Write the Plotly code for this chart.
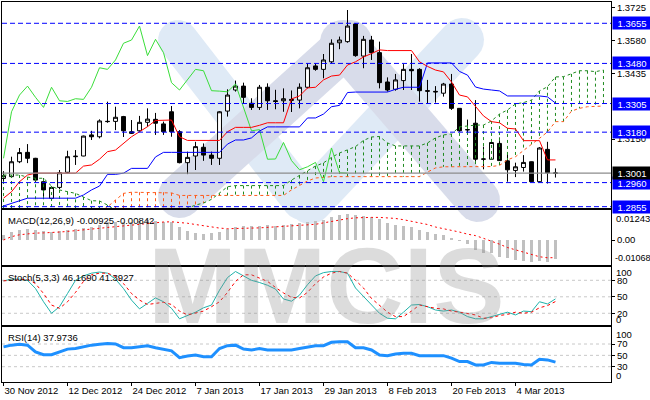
import math
import plotly.graph_objects as go

# ---------------- data ----------------
bar_index = list(range(70))

open_ = [1.2978, 1.2986, 1.3051, 1.3092, 1.3066, 1.2964, 1.2891, 1.2939, 1.3005, 1.3073,
         1.3076, 1.3168, 1.3160, 1.3226, 1.3227, 1.3248, 1.3182, 1.3186, 1.3223, 1.3236,
         1.3216, 1.3269, 1.3182, 1.3047, 1.3076, 1.3114, 1.3080, 1.3066, 1.3272, 1.3364,
         1.3381, 1.3306, 1.3288, 1.3376, 1.3317, 1.3317, 1.3318, 1.3320, 1.3376, 1.3469,
         1.3454, 1.3487, 1.3570, 1.3575, 1.3652, 1.3512, 1.3582, 1.3527, 1.3399, 1.3367,
         1.3405, 1.3454, 1.3454, 1.3361, 1.3358, 1.3350, 1.3390, 1.3284, 1.3190, 1.3219,
         1.3062, 1.3062, 1.3131, 1.3055, 1.3013, 1.3026, 1.3051, 1.2964, 1.3105, 1.3002]
high = [1.3010, 1.3073, 1.3111, 1.3128, 1.3068, 1.2980, 1.2945, 1.3015, 1.3099, 1.3102,
        1.3165, 1.3186, 1.3236, 1.3313, 1.3291, 1.3251, 1.3233, 1.3251, 1.3284, 1.3264,
        1.3226, 1.3294, 1.3189, 1.3095, 1.3138, 1.3131, 1.3095, 1.3272, 1.3367, 1.3405,
        1.3396, 1.3328, 1.3386, 1.3393, 1.3365, 1.3371, 1.3362, 1.3393, 1.3480, 1.3480,
        1.3521, 1.3585, 1.3597, 1.3713, 1.3655, 1.3600, 1.3600, 1.3575, 1.3419, 1.3434,
        1.3477, 1.3521, 1.3459, 1.3408, 1.3381, 1.3395, 1.3434, 1.3285, 1.3235, 1.3320,
        1.3117, 1.3137, 1.3157, 1.3093, 1.3047, 1.3080, 1.3052, 1.3115, 1.3138, 1.3022]
low = [1.2965, 1.2984, 1.3045, 1.3045, 1.2963, 1.2893, 1.2884, 1.2932, 1.3001, 1.3037,
       1.3075, 1.3146, 1.3153, 1.3221, 1.3189, 1.3159, 1.3172, 1.3182, 1.3204, 1.3168,
       1.3168, 1.3160, 1.3044, 1.2997, 1.3015, 1.3055, 1.3037, 1.3037, 1.3248, 1.3357,
       1.3306, 1.3277, 1.3277, 1.3277, 1.3280, 1.3269, 1.3268, 1.3284, 1.3371, 1.3448,
       1.3415, 1.3480, 1.3542, 1.3570, 1.3509, 1.3459, 1.3495, 1.3371, 1.3357, 1.3361,
       1.3364, 1.3364, 1.3313, 1.3306, 1.3309, 1.3335, 1.3277, 1.3182, 1.3168, 1.3041,
       1.3018, 1.3061, 1.3055, 1.2964, 1.2984, 1.3008, 1.2962, 1.2960, 1.2956, 1.2982]
close = [1.2990, 1.3051, 1.3091, 1.3066, 1.2971, 1.2928, 1.2939, 1.3003, 1.3073, 1.3075,
         1.3163, 1.3160, 1.3229, 1.3227, 1.3245, 1.3186, 1.3175, 1.3223, 1.3237, 1.3219,
         1.3182, 1.3182, 1.3047, 1.3070, 1.3117, 1.3080, 1.3066, 1.3269, 1.3342, 1.3381,
         1.3332, 1.3288, 1.3376, 1.3317, 1.3314, 1.3326, 1.3323, 1.3376, 1.3461, 1.3454,
         1.3495, 1.3568, 1.3582, 1.3643, 1.3514, 1.3585, 1.3527, 1.3396, 1.3364, 1.3408,
         1.3454, 1.3448, 1.3361, 1.3359, 1.3356, 1.3390, 1.3284, 1.3186, 1.3191, 1.3062,
         1.3063, 1.3135, 1.3056, 1.3016, 1.3029, 1.3048, 1.2964, 1.3111, 1.3003, 1.3001]

tenkan = [1.2892, 1.2920, 1.2964, 1.2993, 1.3001, 1.3001, 1.3001, 1.3001, 1.3001, 1.3001,
          1.3032, 1.3037, 1.3062, 1.3095, 1.3102, 1.3131, 1.3160, 1.3182, 1.3204, 1.3231,
          1.3233, 1.3233, 1.3160, 1.3144, 1.3144, 1.3144, 1.3144, 1.3144, 1.3182, 1.3201,
          1.3201, 1.3201, 1.3210, 1.3221, 1.3221, 1.3221, 1.3325, 1.3338, 1.3373, 1.3376,
          1.3408, 1.3425, 1.3429, 1.3473, 1.3487, 1.3508, 1.3523, 1.3539, 1.3536, 1.3536,
          1.3536, 1.3536, 1.3487, 1.3467, 1.3451, 1.3443, 1.3399, 1.3342, 1.3334, 1.3290,
          1.3251, 1.3226, 1.3221, 1.3197, 1.3194, 1.3143, 1.3143, 1.3143, 1.3059, 1.3059]
kijun = [1.2858, 1.2870, 1.2881, 1.2892, 1.2892, 1.2892, 1.2892, 1.2892, 1.2892, 1.2892,
         1.2906, 1.2928, 1.2945, 1.2996, 1.2996, 1.3001, 1.3022, 1.3022, 1.3022, 1.3072,
         1.3092, 1.3092, 1.3092, 1.3092, 1.3092, 1.3092, 1.3092, 1.3092, 1.3128, 1.3146,
         1.3146, 1.3155, 1.3185, 1.3203, 1.3203, 1.3203, 1.3203, 1.3203, 1.3242, 1.3242,
         1.3259, 1.3291, 1.3297, 1.3353, 1.3355, 1.3355, 1.3355, 1.3355, 1.3355, 1.3367,
         1.3376, 1.3376, 1.3376, 1.3482, 1.3482, 1.3482, 1.3482, 1.3445, 1.3429, 1.3377,
         1.3368, 1.3364, 1.3360, 1.3338, 1.3338, 1.3338, 1.3338, 1.3338, 1.3334, 1.3307]
span_a = [1.2993, 1.2993, 1.2993, 1.2984, 1.2979, 1.2979, 1.2945, 1.2928, 1.2920, 1.2913,
          1.2897, 1.2881, 1.2880, 1.2862, 1.2838, 1.2835, 1.2833, 1.2832, 1.2832, 1.2833,
          1.2835, 1.2838, 1.2842, 1.2848, 1.2862, 1.2871, 1.2887, 1.2913, 1.2942, 1.2947,
          1.2947, 1.2947, 1.2947, 1.2947, 1.2947, 1.2947, 1.2971, 1.2991, 1.3011, 1.3032,
          1.3046, 1.3070, 1.3089, 1.3102, 1.3117, 1.3144, 1.3159, 1.3161, 1.3133, 1.3120,
          1.3120, 1.3120, 1.3120, 1.3133, 1.3155, 1.3168, 1.3172, 1.3203, 1.3207, 1.3211,
          1.3211, 1.3229, 1.3259, 1.3277, 1.3303, 1.3309, 1.3320, 1.3360, 1.3378, 1.3421,
          1.3422, 1.3434, 1.3448, 1.3448, 1.3444, 1.3451]
span_b = [1.2825, 1.2825, 1.2825, 1.2825, 1.2825, 1.2825, 1.2825, 1.2825, 1.2825, 1.2825,
          1.2825, 1.2825, 1.2830, 1.2854, 1.2884, 1.2913, 1.2918, 1.2918, 1.2918, 1.2918,
          1.2918, 1.2915, 1.2904, 1.2904, 1.2904, 1.2904, 1.2904, 1.2904, 1.2904, 1.2904,
          1.2904, 1.2904, 1.2904, 1.2904, 1.2904, 1.2904, 1.2928, 1.2947, 1.2967, 1.2980,
          1.2984, 1.2986, 1.2986, 1.2986, 1.2986, 1.2986, 1.2986, 1.2986, 1.2986, 1.2986,
          1.2986, 1.2986, 1.2986, 1.3006, 1.3024, 1.3029, 1.3029, 1.3029, 1.3029, 1.3029,
          1.3029, 1.3030, 1.3035, 1.3059, 1.3073, 1.3102, 1.3127, 1.3153, 1.3181, 1.3226,
          1.3226, 1.3272, 1.3284, 1.3291, 1.3294, 1.3294]
chikou_shift = 26

macd_hist = [0.0024, 0.0040, 0.0048, 0.0053, 0.0048, 0.0043, 0.0037, 0.0043, 0.0048, 0.0053,
             0.0059, 0.0064, 0.0072, 0.0085, 0.0087, 0.0087, 0.0087, 0.0091, 0.0096, 0.0091,
             0.0087, 0.0085, 0.0064, 0.0043, 0.0032, 0.0027, 0.0032, 0.0040, 0.0053, 0.0064,
             0.0068, 0.0067, 0.0068, 0.0072, 0.0068, 0.0072, 0.0075, 0.0080, 0.0087, 0.0091,
             0.0096, 0.0111, 0.0120, 0.0124, 0.0120, 0.0115, 0.0111, 0.0100, 0.0080, 0.0072,
             0.0067, 0.0061, 0.0048, 0.0040, 0.0029, 0.0024, 0.0011, -0.0002, -0.0021, -0.0048,
             -0.0064, -0.0064, -0.0080, -0.0087, -0.0096, -0.0100, -0.0107, -0.0100, -0.0104, -0.00925]
macd_signal = [0.0000, 0.0016, 0.0025, 0.0030, 0.0033, 0.0034, 0.0035, 0.0038, 0.0041, 0.0044,
               0.0048, 0.0052, 0.0056, 0.0060, 0.0064, 0.0068, 0.0072, 0.0076, 0.0080, 0.0083,
               0.0086, 0.0087, 0.0085, 0.0080, 0.0074, 0.0068, 0.0061, 0.0057, 0.0054, 0.0054,
               0.0055, 0.0057, 0.0058, 0.0060, 0.0062, 0.0064, 0.0066, 0.0068, 0.0071, 0.0075,
               0.0082, 0.0089, 0.0096, 0.0102, 0.0106, 0.0108, 0.0108, 0.0108, 0.0107, 0.0103,
               0.0097, 0.0090, 0.0082, 0.0074, 0.0062, 0.0055, 0.0047, 0.0038, 0.0028, 0.0021,
               0.0008, -0.0005, -0.0020, -0.0036, -0.0047, -0.0060, -0.0070, -0.0080, -0.0085, -0.00842]

stoch_main = [79, 82, 82, 80, 65, 41, 20, 32, 56, 80, 88, 93, 95, 93, 82, 65, 44, 28, 38, 48,
              41, 29, 10, 16, 22, 30, 35, 62, 85, 96, 88, 80, 76, 71, 64, 46, 42, 53, 72, 88,
              94, 96, 96, 93, 66, 50, 35, 20, 11, 10, 22, 35, 36, 32, 26, 24, 26, 22, 14, 10,
              10, 14, 18, 22, 17, 24, 23, 41, 37, 46.169]
stoch_signal = [79, 80, 82, 82, 74, 56, 35, 29, 41, 58, 78, 90, 93, 93, 87, 74, 56, 44, 36, 38,
                40, 36, 24, 17, 20, 24, 32, 41, 58, 78, 90, 90, 84, 78, 67, 57, 49, 48, 58, 74,
                86, 93, 96, 93, 80, 66, 47, 35, 22, 14, 14, 24, 35, 32, 29, 28, 24, 22, 20, 17,
                11, 12, 16, 18, 22, 20, 22, 30, 34, 41.3927]
rsi = [65, 68, 69.5, 68, 56, 51, 51, 56, 61, 62, 65, 68, 69.5, 71, 70, 63.5, 63.5, 65, 67, 63.5,
       61, 58, 46, 49, 50.5, 47.5, 47.5, 62, 67, 68, 61, 59.5, 62, 59.5, 59.5, 59.5, 59.5, 62, 65, 67,
       67, 73, 74, 74, 63.5, 63.5, 59.5, 50.5, 49.5, 52.5, 53.5, 53.5, 49.5, 49.5, 49.5, 49.5, 45, 39, 39, 33,
       33, 37.5, 36, 36, 36, 34, 33, 43, 42, 37.97]

level_prices = [1.3655, 1.3480, 1.3305, 1.3180, 1.2960, 1.2855]
current_price = 1.3001
price_ticks = [1.3725, 1.3580, 1.3435, 1.3150]
date_ticks = [0, 8, 16, 24, 32, 40, 48, 56, 64]
date_labels = ["30 Nov 2012", "12 Dec 2012", "24 Dec 2012", "7 Jan 2013", "17 Jan 2013",
               "29 Jan 2013", "8 Feb 2013", "20 Feb 2013", "4 Mar 2013"]
stoch_levels = [80, 50, 20]
rsi_levels = [70, 50, 30]
macd_title = "MACD(12,26,9) -0.00925 -0.00842"
stoch_title = "Stoch(5,3,3) 46.1690 41.3927"
rsi_title = "RSI(14) 37.9736"

# ---------------- geometry helpers ----------------
W, H = 650, 400
ML, MR, MT, MB = 2, 39, 2, 18
PX0, PX1 = ML, W - MR
PY0, PY1 = MT, H - MB


def yp(Y):
    return (PY1 - Y) / (PY1 - PY0)


def xp(X):
    return (X - PX0) / (PX1 - PX0)


FONT = "Liberation Sans, Arial, sans-serif"
FS = 9.5

fig = go.Figure()

# candles
fig.add_trace(go.Candlestick(
    x=bar_index, open=open_, high=high, low=low, close=close,
    increasing=dict(fillcolor="white", line=dict(color="black", width=1)),
    decreasing=dict(fillcolor="black", line=dict(color="black", width=1)),
    whiskerwidth=0, hoverinfo="skip", xaxis="x", yaxis="y", showlegend=False))

# kumo hatching
hx_g, hy_g, hx_o, hy_o = [], [], [], []
for i, (a, b) in enumerate(zip(span_a, span_b)):
    if a >= b:
        hx_g += [i, i, None]; hy_g += [a, b, None]
    else:
        hx_o += [i, i, None]; hy_o += [b, a, None]
GREEN_D = "#1f8a1f"
ORANGE = "#ff5a1a"
fig.add_trace(go.Scatter(x=hx_g, y=hy_g, mode="lines", line=dict(color=GREEN_D, width=1, dash="3px,3px"),
                         hoverinfo="skip", showlegend=False, xaxis="x", yaxis="y"))
fig.add_trace(go.Scatter(x=hx_o, y=hy_o, mode="lines", line=dict(color=ORANGE, width=1, dash="3px,3px"),
                         hoverinfo="skip", showlegend=False, xaxis="x", yaxis="y"))
span_x = list(range(len(span_a)))
fig.add_trace(go.Scatter(x=span_x, y=span_a, mode="lines", line=dict(color=GREEN_D, width=1, dash="3px,3px"),
                         hoverinfo="skip", showlegend=False, xaxis="x", yaxis="y"))
fig.add_trace(go.Scatter(x=span_x, y=span_b, mode="lines", line=dict(color=ORANGE, width=1, dash="3px,3px"),
                         hoverinfo="skip", showlegend=False, xaxis="x", yaxis="y"))
# chikou
fig.add_trace(go.Scatter(x=[i - chikou_shift for i in bar_index[chikou_shift:]], y=close[chikou_shift:],
                         mode="lines", line=dict(color="#3ade3a", width=1),
                         hoverinfo="skip", showlegend=False, xaxis="x", yaxis="y"))
# kijun / tenkan
fig.add_trace(go.Scatter(x=bar_index, y=kijun, mode="lines", line=dict(color="#0000ff", width=1),
                         hoverinfo="skip", showlegend=False, xaxis="x", yaxis="y"))
fig.add_trace(go.Scatter(x=bar_index, y=tenkan, mode="lines", line=dict(color="#ff0000", width=1),
                         hoverinfo="skip", showlegend=False, xaxis="x", yaxis="y"))

# MACD
fig.add_trace(go.Bar(x=bar_index, y=macd_hist, width=0.4, marker=dict(color="#c0c0c0", line=dict(width=0)),
                     hoverinfo="skip", showlegend=False, xaxis="x2", yaxis="y2"))
fig.add_trace(go.Scatter(x=bar_index, y=macd_signal, mode="lines", line=dict(color="#ff0000", width=1, dash="2px,3px"),
                         hoverinfo="skip", showlegend=False, xaxis="x2", yaxis="y2"))
# Stochastic
fig.add_trace(go.Scatter(x=bar_index, y=stoch_main, mode="lines", line=dict(color="#20b2aa", width=1),
                         hoverinfo="skip", showlegend=False, xaxis="x3", yaxis="y3"))
fig.add_trace(go.Scatter(x=bar_index, y=stoch_signal, mode="lines", line=dict(color="#ff0000", width=1, dash="3px,3px"),
                         hoverinfo="skip", showlegend=False, xaxis="x3", yaxis="y3"))
# RSI
fig.add_trace(go.Scatter(x=bar_index, y=rsi, mode="lines", line=dict(color="#1e90ff", width=3),
                         hoverinfo="skip", showlegend=False, xaxis="x4", yaxis="y4"))

# ---------------- shapes ----------------
shapes = []


def capsule(x1, y1, x2, y2, hw, color, n=12):
    dx, dy = x2 - x1, y2 - y1
    L = math.hypot(dx, dy)
    ux, uy = dx / L, dy / L
    nx, ny = -uy, ux
    a0 = math.atan2(ny, nx)
    pts = []
    for k in range(n + 1):
        a = a0 - math.pi * k / n
        pts.append((x2 + hw * math.cos(a), y2 + hw * math.sin(a)))
    for k in range(n + 1):
        a = a0 - math.pi - math.pi * k / n
        pts.append((x1 + hw * math.cos(a), y1 + hw * math.sin(a)))
    path = "M " + " L ".join(f"{xp(X):.5f},{yp(Y):.5f}" for X, Y in pts) + " Z"
    return dict(type="path", path=path, xref="paper", yref="paper", fillcolor=color,
                line=dict(width=0), layer="below")


LIGHT = "#dfeaf6"
LAV = "#d8dcea"
shapes.append(capsule(178, 40, 302, 200, 20, LIGHT))
shapes.append(capsule(310, 202, 462, 40, 22, LIGHT))
shapes.append(capsule(180, 196, 350, 42, 22, LAV))
shapes.append(capsule(342, 42, 478, 200, 22, LAV))

for lv in level_prices:
    shapes.append(dict(type="line", xref="paper", x0=0, x1=1, yref="y", y0=lv, y1=lv,
                       line=dict(color="#0000ff", width=1, dash="5px,3px"), layer="above"))
shapes.append(dict(type="line", xref="paper", x0=0, x1=1, yref="y", y0=current_price, y1=current_price,
                   line=dict(color="#8c8c8c", width=1.3), layer="above"))
for lv in stoch_levels:
    shapes.append(dict(type="line", xref="paper", x0=0, x1=1, yref="y3", y0=lv, y1=lv,
                       line=dict(color="#c8c8c8", width=1, dash="3px,3px"), layer="below"))
for lv in rsi_levels:
    shapes.append(dict(type="line", xref="paper", x0=0, x1=1, yref="y4", y0=lv, y1=lv,
                       line=dict(color="#c8c8c8", width=1, dash="3px,3px"), layer="below"))

# ---------------- annotations ----------------
ann = []
for lv in level_prices:
    ann.append(dict(x=1, xref="paper", y=lv, yref="y", xanchor="left", yanchor="middle", xshift=1,
                    text=f"{lv:.4f}", showarrow=False, bgcolor="#0000ff", width=36, height=10, borderpad=1,
                    font=dict(color="white", size=FS, family=FONT)))
ann.append(dict(x=1, xref="paper", y=current_price, yref="y", xanchor="left", yanchor="middle", xshift=1,
                text=f"{current_price:.4f}", showarrow=False, bgcolor="#000000", width=36, height=10, borderpad=1,
                font=dict(color="white", size=FS, family=FONT)))

edge_labels = [("0.01243", 218.3, 3, FS), ("-0.01068", 258.3, 2, 9), ("100", 272.5, 3, FS),
               ("0", 319.0, 3, FS), ("100", 334.3, 3, FS), ("0", 375.7, 3, FS)]
for txt, Y, sh, fs in edge_labels:
    ann.append(dict(x=1, xref="paper", y=yp(Y), yref="paper", xanchor="left", yanchor="middle", xshift=sh,
                    text=txt, showarrow=False, font=dict(color="black", size=fs, family=FONT)))

for txt, Y in [(macd_title, 220.7), (stoch_title, 277.3), (rsi_title, 337.7)]:
    ann.append(dict(x=xp(6), xref="paper", y=yp(Y), yref="paper", xanchor="left", yanchor="middle",
                    text=txt, showarrow=False, font=dict(color="black", size=FS, family=FONT)))

ann.append(dict(x=xp(326), xref="paper", y=yp(286), yref="paper", xanchor="center", yanchor="middle",
                text="<b>MMCIS</b>", showarrow=False,
                font=dict(color="rgba(140,140,140,0.30)", size=107, family=FONT)))

# ---------------- layout ----------------
xr = [-0.19, 75.94]
common_x = dict(range=xr, showgrid=False, zeroline=False, showline=True, mirror=True,
                linecolor="black", linewidth=1, fixedrange=True)
common_y = dict(showgrid=False, zeroline=False, showline=True, mirror=True, linecolor="black", linewidth=1,
                side="right", ticks="outside", ticklen=3, tickcolor="black", automargin=False,
                tickfont=dict(size=FS, family=FONT, color="black"))

fig.update_layout(
    width=W, height=H, margin=dict(l=ML, r=MR, t=MT, b=MB, autoexpand=False),
    paper_bgcolor="white", plot_bgcolor="rgba(0,0,0,0)",
    showlegend=False, shapes=shapes, annotations=ann, bargap=0,
    xaxis=dict(**common_x, anchor="y", showticklabels=False, ticks="", rangeslider=dict(visible=False)),
    xaxis2=dict(**common_x, anchor="y2", showticklabels=False, ticks=""),
    xaxis3=dict(**common_x, anchor="y3", showticklabels=False, ticks=""),
    xaxis4=dict(**common_x, anchor="y4", tickvals=date_ticks, ticktext=date_labels,
                ticks="outside", ticklen=3, tickcolor="black", ticklabelposition="outside right",
                automargin=False, tickfont=dict(size=FS, family=FONT, color="black")),
    yaxis=dict(**common_y, domain=[yp(208), 1], range=[1.28492, 1.37479], anchor="x",
               tickvals=price_ticks, ticktext=[f"{v:.4f}" for v in price_ticks]),
    yaxis2=dict(**common_y, domain=[yp(265), yp(210)], range=[-0.01195, 0.01434], anchor="x2",
                tickvals=[0], ticktext=["0.00"]),
    yaxis3=dict(**common_y, domain=[yp(325), yp(267)], range=[-1.3, 104.2], anchor="x3",
                tickvals=stoch_levels, ticktext=[str(v) for v in stoch_levels]),
    yaxis4=dict(**common_y, domain=[0, yp(327)], range=[3, 100], anchor="x4",
                tickvals=rsi_levels, ticktext=[str(v) for v in rsi_levels]),
)

fig.write_html("out.html", config={"displayModeBar": False},
               post_script="document.body.style.margin='0px';document.body.style.overflow='hidden';")
